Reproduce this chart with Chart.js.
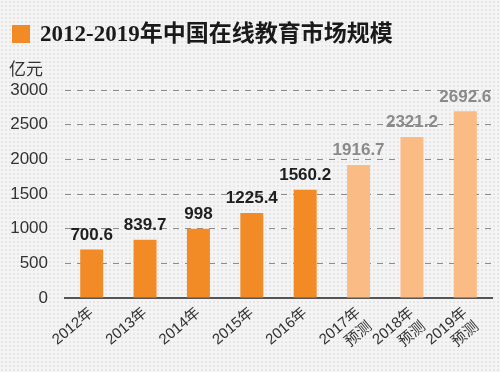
<!DOCTYPE html>
<html>
<head>
<meta charset="utf-8">
<script src="https://cdn.jsdelivr.net/npm/chart.js@4.4.1/dist/chart.umd.min.js"></script>
<style>
  html, body { margin: 0; padding: 0; }
  body {
    width: 500px; height: 372px; overflow: hidden;
    background-color: #f4f4f4;
    background-image: radial-gradient(#e6e6e6 0.8px, transparent 1px);
    background-size: 4px 4px;
  }
  #wrap { position: relative; width: 500px; height: 372px; }
</style>
</head>
<body>
<div id="wrap"><canvas id="c" width="500" height="372"></canvas></div>
<script>
const titleText = '2012-2019年中国在线教育市场规模';
const unitLabel = '亿元';
const categories = [
  ['2012年'], ['2013年'], ['2014年'], ['2015年'], ['2016年'],
  ['2017年', '预测'], ['2018年', '预测'], ['2019年', '预测']
];
const values = [700.6, 839.7, 998, 1225.4, 1560.2, 1916.7, 2321.2, 2692.6];
const valueLabels = ['700.6', '839.7', '998', '1225.4', '1560.2', '1916.7', '2321.2', '2692.6'];
const isForecast = [false, false, false, false, false, true, true, true];
const yTicks = [0, 500, 1000, 1500, 2000, 2500, 3000];

const ACTUAL = '#f28a25';
const FORECAST = '#fbbb84';

const decor = {
  id: 'decor',
  afterDraw(chart) {
    const ctx = chart.ctx;
    ctx.save();
    ctx.fillStyle = ACTUAL;
    ctx.fillRect(12, 25, 18, 18);
    ctx.fillStyle = '#1a1a1a';
    ctx.font = 'bold 23px "Liberation Serif", "Noto Sans CJK SC", serif';
    ctx.textBaseline = 'middle';
    ctx.textAlign = 'left';
    ctx.fillText(titleText, 40, 35);
    ctx.fillStyle = '#333';
    ctx.font = '17px "Liberation Sans", "Noto Sans CJK SC", sans-serif';
    ctx.fillText(unitLabel, 9, 70);
    const meta = chart.getDatasetMeta(0);
    ctx.textAlign = 'center';
    ctx.textBaseline = 'bottom';
    ctx.font = 'bold 17px "Liberation Sans", sans-serif';
    meta.data.forEach((bar, i) => {
      ctx.fillStyle = isForecast[i] ? '#8a8a8a' : '#1f1f1f';
      ctx.fillText(valueLabels[i], bar.x, bar.y - 6);
    });
    ctx.restore();
  }
};

new Chart(document.getElementById('c'), {
  type: 'bar',
  data: {
    labels: categories,
    datasets: [{
      data: values,
      backgroundColor: isForecast.map(f => f ? FORECAST : ACTUAL),
      barPercentage: 0.86,
      categoryPercentage: 0.5
    }]
  },
  options: {
    responsive: false,
    animation: false,
    devicePixelRatio: 1,
    layout: { padding: { top: 90, right: 8, left: 0, bottom: 0 } },
    plugins: { legend: { display: false }, tooltip: { enabled: false } },
    scales: {
      x: {
        grid: { display: false, drawTicks: false },
        border: { display: true, color: '#555', width: 2 },
        ticks: {
          color: '#333',
          font: { size: 15, family: '"Liberation Sans", "Noto Sans CJK SC", sans-serif' },
          minRotation: 40, maxRotation: 40,
          padding: 6,
          autoSkip: false
        },
        afterFit(scale) { scale.height = 74; }
      },
      y: {
        min: 0, max: 3000,
        afterBuildTicks(scale) { scale.ticks = yTicks.map(v => ({ value: v })); },
        grid: {
          drawTicks: false,
          color: ctx => ctx.tick && ctx.tick.value === 0 ? 'rgba(0,0,0,0)' : '#8c8c8c',
          lineWidth: 1
        },
        border: { display: false, dash: [6, 6] },
        ticks: {
          color: '#333',
          padding: 17,
          font: { size: 17, family: '"Liberation Sans", sans-serif' },
          callback: v => String(v)
        },
        afterFit(scale) { scale.width = 65; }
      }
    }
  },
  plugins: [decor]
});
</script>
</body>
</html>
